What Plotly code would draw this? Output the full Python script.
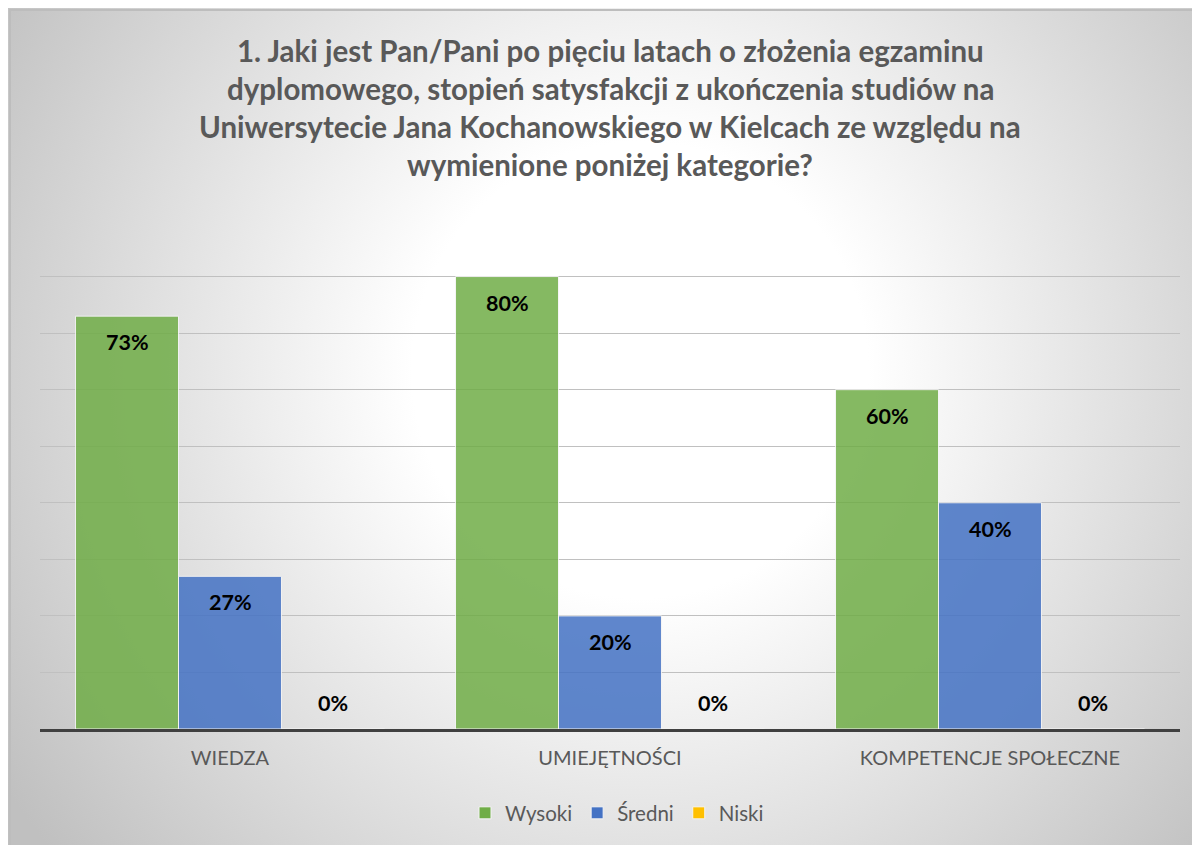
import base64

import plotly.graph_objects as go

categories = ["WIEDZA", "UMIEJĘTNOŚCI", "KOMPETENCJE SPOŁECZNE"]
wysoki = [0.73, 0.80, 0.60]
sredni = [0.27, 0.20, 0.40]
niski = [0.00, 0.00, 0.00]

series_names = ["Wysoki", "Średni", "Niski"]
series_colors = ["#70ad47", "#4472c4", "#ffc000"]

title_lines = [
    "1. Jaki jest Pan/Pani po pięciu latach o złożenia egzaminu",
    "dyplomowego, stopień satysfakcji z ukończenia studiów na",
    "Uniwersytecie Jana Kochanowskiego w Kielcach ze względu na",
    "wymienione poniżej kategorie?",
]

W, H = 1200, 845
OFF = 8  # page body margin
ML, MR, MT, MB = 40 - OFF, 20 + OFF, 220 - OFF, 116 + OFF
PW, PH = W - ML - MR, H - MT - MB
FONT = "Lato"
GREY = "#595959"


def px_x(x):
    # x in screen pixels -> paper coords
    return (x - OFF - ML) / PW


def px_y(y):
    return (H - MB - (y - OFF)) / PH


# radial grey-white background like the Excel chart area
svg = f"""<svg xmlns="http://www.w3.org/2000/svg" width="{W}" height="{H}">
<defs><radialGradient id="g" gradientUnits="userSpaceOnUse" cx="640" cy="370" r="760">
<stop offset="0" stop-color="#ffffff"/><stop offset="0.3" stop-color="#ffffff"/>
<stop offset="1" stop-color="#c0c0c0"/></radialGradient></defs>
<rect x="0" y="0" width="{W}" height="{H}" fill="url(#g)"/></svg>"""
bg_src = "data:image/svg+xml;base64," + base64.b64encode(svg.encode()).decode()

fig = go.Figure()
for name, vals, color in zip(series_names, [wysoki, sredni, niski], series_colors):
    fig.add_trace(
        go.Bar(
            x=categories,
            y=vals,
            name=name,
            marker=dict(color=color, opacity=0.85, line=dict(color="#f4f4f4", width=1)),
            hoverinfo="skip",
        )
    )

# data labels, Excel "inside end" style
bar_w = PW / 3 * (1 - 0.187) / 3
for i, vals in enumerate([wysoki, sredni, niski]):
    for cat, v in zip(categories, vals):
        fig.add_annotation(
            x=cat,
            y=v,
            text=f"{v:.0%}",
            showarrow=False,
            xshift=(i - 1) * bar_w,
            yshift=-26 if v > 0 else 26,
            font=dict(family=FONT, size=21.5, color="#000000", weight="bold"),
        )

title_y = [50, 88, 126, 164]
for line, ty in zip(title_lines, title_y):
    fig.add_annotation(
        xref="paper",
        yref="paper",
        x=0.5,
        y=px_y(ty),
        text=line,
        showarrow=False,
        xanchor="center",
        yanchor="middle",
        font=dict(family=FONT, size=29.5, color=GREY, weight="bold"),
    )

fig.add_layout_image(
    source=bg_src,
    xref="paper",
    yref="paper",
    x=px_x(0),
    y=px_y(0),
    sizex=W / PW,
    sizey=H / PH,
    xanchor="left",
    yanchor="top",
    sizing="stretch",
    layer="below",
)
# chart area border (top/left visible)
fig.add_shape(
    type="rect",
    xref="paper",
    yref="paper",
    x0=px_x(10),
    y0=px_y(H + 20),
    x1=px_x(W + 20),
    y1=px_y(10),
    line=dict(color="#bdbdbd", width=2),
    layer="below",
)

fig.update_layout(
    width=W,
    height=H,
    margin=dict(l=ML, r=MR, t=MT, b=MB),
    paper_bgcolor="#ffffff",
    plot_bgcolor="rgba(0,0,0,0)",
    barmode="group",
    bargap=0.187,
    bargroupgap=0,
    font=dict(family=FONT, color=GREY),
    legend=dict(
        orientation="h",
        x=px_x(617),
        xanchor="center",
        y=px_y(813),
        yanchor="middle",
        font=dict(size=20.5, color=GREY),
        bgcolor="rgba(0,0,0,0)",
        itemwidth=30,
    ),
    xaxis=dict(
        showline=True,
        linecolor="#404040",
        linewidth=3,
        tickfont=dict(size=20, color=GREY),
        ticks="",
        ticklabelstandoff=9,
    ),
    yaxis=dict(
        range=[0, 0.9],
        dtick=0.1,
        showgrid=True,
        gridcolor="#c0c0c0",
        gridwidth=1,
        showticklabels=False,
        zeroline=False,
    ),
)

fig.write_html("out.html")
